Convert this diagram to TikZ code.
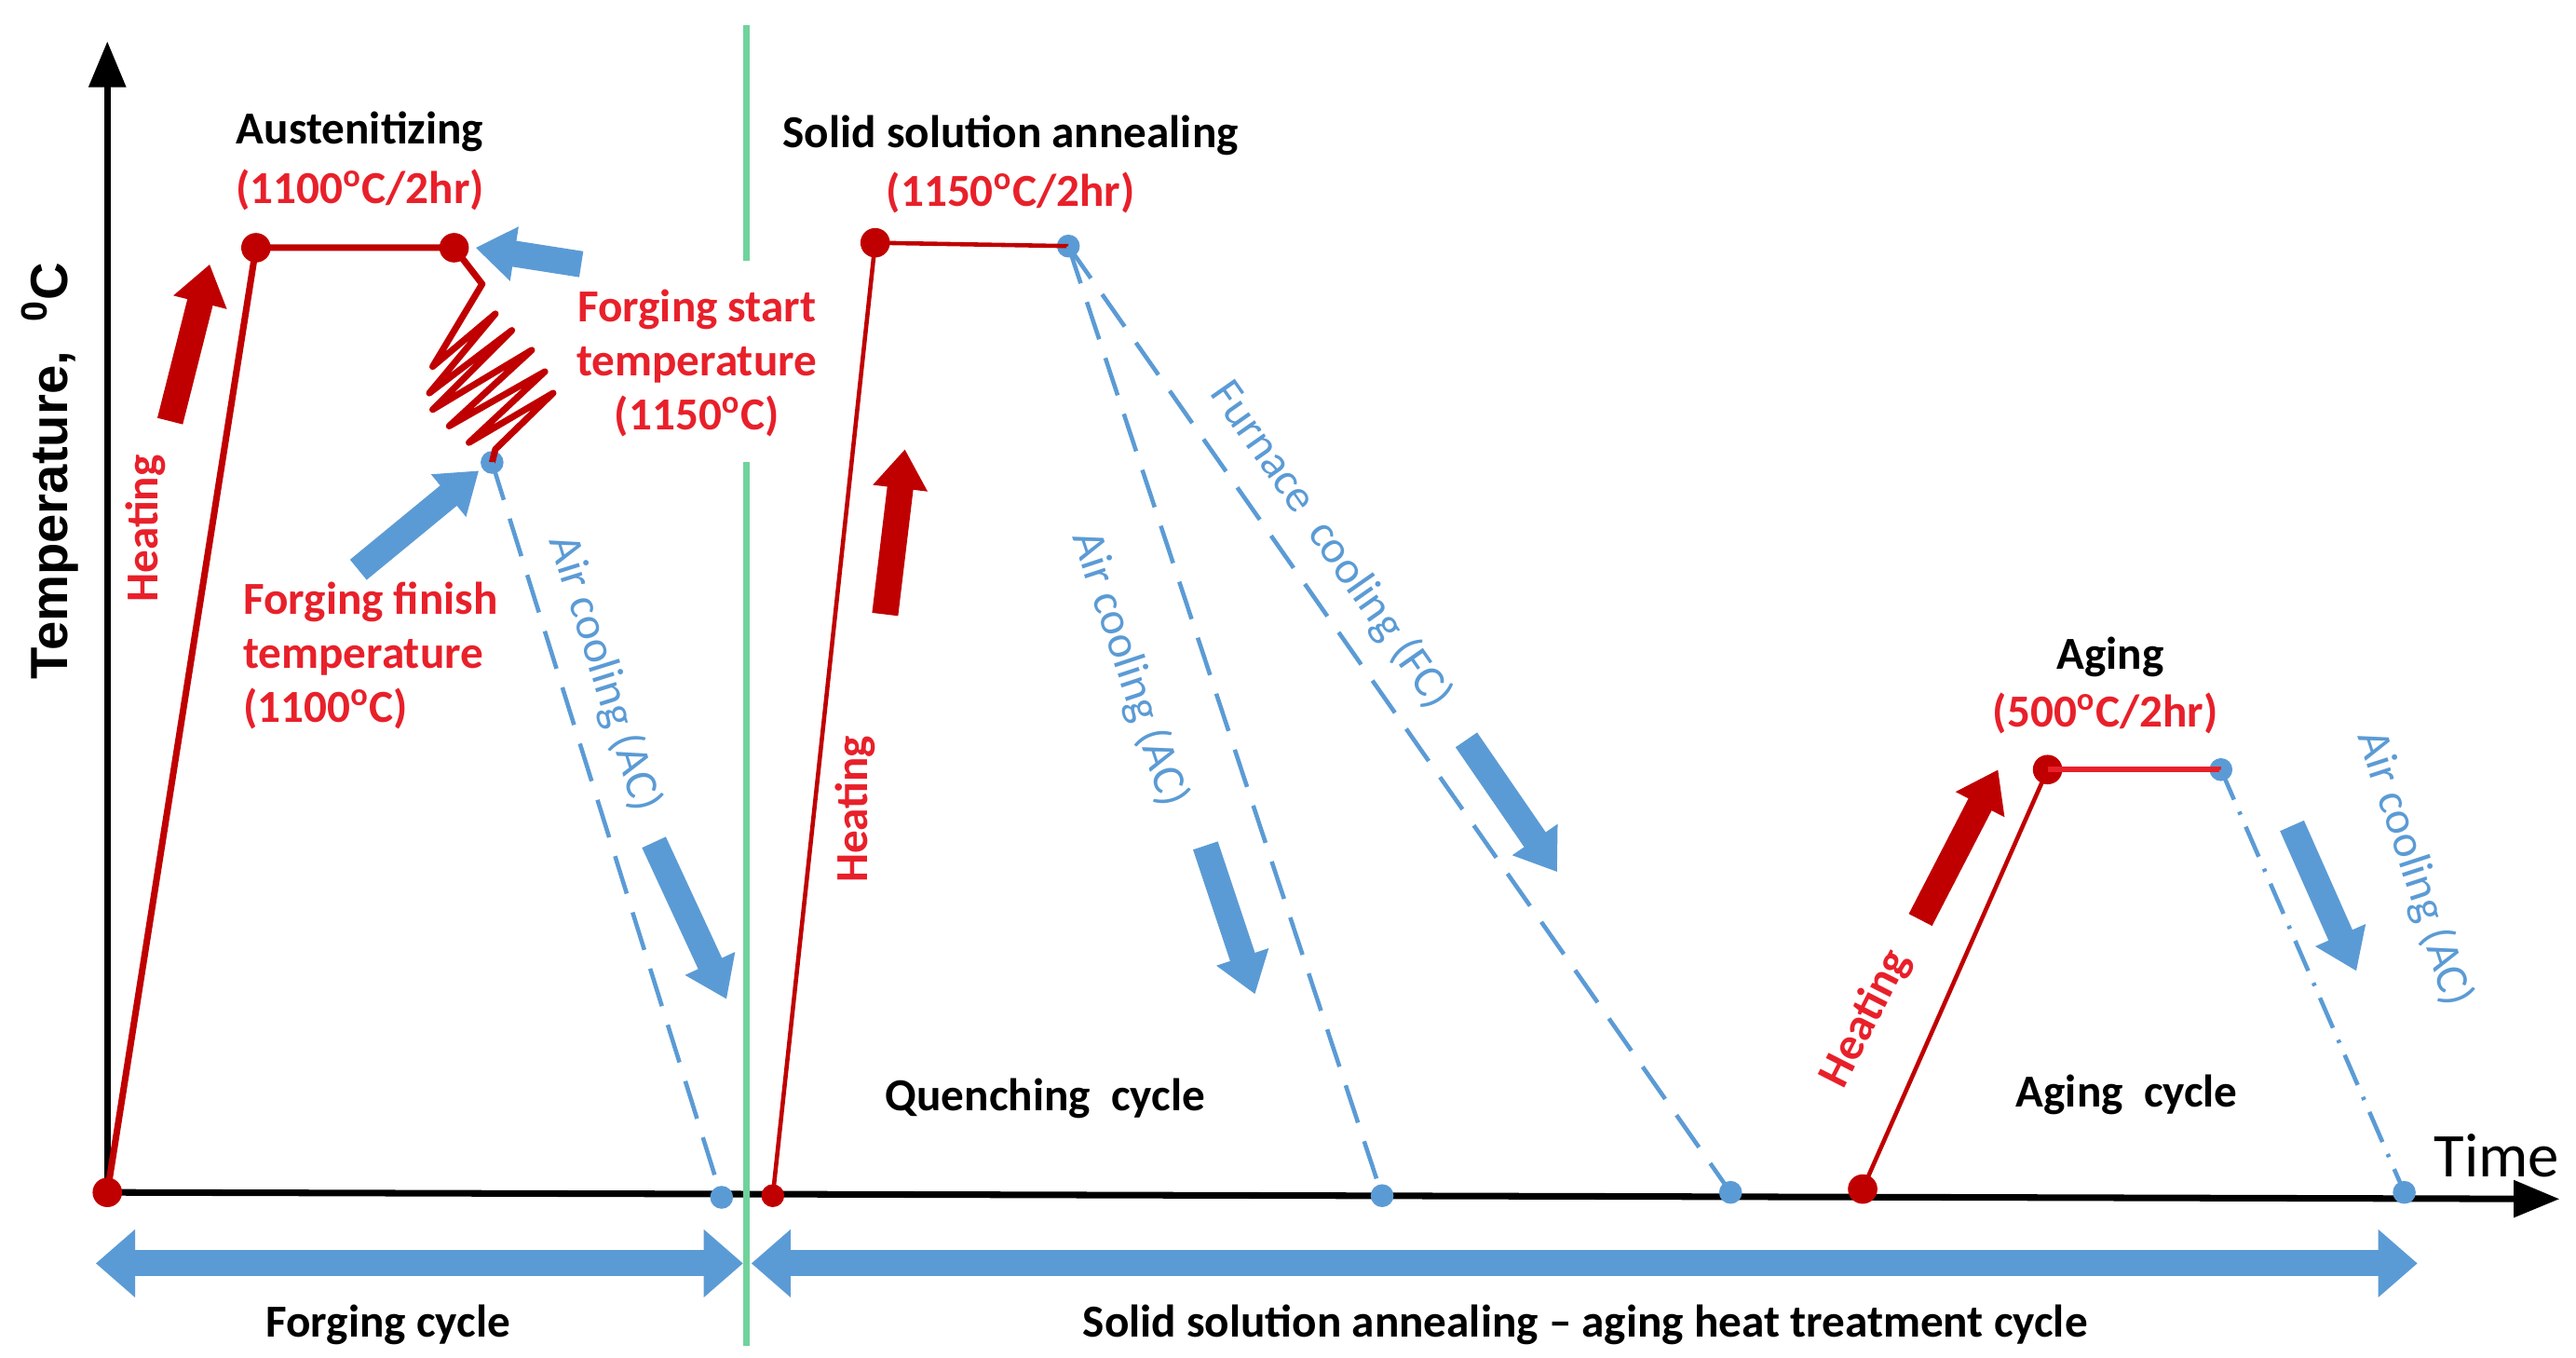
\documentclass[tikz,border=0pt]{standalone}
\usepackage{fontspec}
\setmainfont{Carlito}
\newfontfamily\arialf{Liberation Sans}
\usetikzlibrary{arrows.meta}
\definecolor{dred}{HTML}{C00000}
\definecolor{lred}{HTML}{E8202A}
\definecolor{lblue}{HTML}{5B9BD5}
\definecolor{lgreen}{HTML}{6FD39C}
\begin{document}
\begin{tikzpicture}[x=0.01773cm,y=-0.01773cm,
  lab/.style={font=\bfseries\fontsize{14}{16.5}\selectfont,align=center,inner sep=1pt},
  rlab/.style={lab,text=lred},
  blab/.style={font=\fontsize{14}{16}\selectfont,text=lblue,inner sep=1pt},
  rline/.style={dred,line width=1.3pt},
  bdash/.style={lblue,line width=1.3pt,dash pattern=on 12pt off 6pt},
  bdot/.style={lblue,line width=1.3pt,dash pattern=on 10pt off 4pt on 1pt off 4pt},
  rdot/.style={circle,fill=dred,inner sep=0pt,minimum size=9pt},
  bdotn/.style={circle,fill=lblue,inner sep=0pt,minimum size=7pt},
  rarr/.style={dred,line width=8pt,-{Triangle[width=16pt,length=12pt]}},
  barr/.style={lblue,line width=8pt,-{Triangle[width=16pt,length=12pt]}},
  bbar/.style={lblue,line width=8pt,{Triangle[width=20pt,length=12pt]}-{Triangle[width=20pt,length=12pt]}}]
\useasboundingbox (0,0) rectangle (1560,822);
% axes
\coordinate (O) at (65,722);
\coordinate (Ytop) at (65,25);
\coordinate (Xend) at (1550,726);
\draw[line width=2pt,-{Triangle[width=11pt,length=14pt]}] (O) -- (Ytop);
\draw[line width=2pt,-{Triangle[width=11pt,length=14pt]}] (O) -- (Xend);
% green separator
\coordinate (g1) at (452,15); \coordinate (g2) at (452,158);
\coordinate (g3) at (452,280); \coordinate (g4) at (452,815);
\draw[lgreen,line width=2pt] (g1) -- (g2) (g3) -- (g4);
% forging cycle
\node[rdot] (f0) at (65,722) {};
\node[rdot] (f1) at (155,150) {};
\node[rdot] (f2) at (275,150) {};
\node[bdotn] (f3) at (298,280) {};
\node[bdotn] (f4) at (437,725) {};
\draw[rline,line width=2pt,line join=round] (f0.center) -- (f1.center) -- (f2.center) -- (292,172)
  -- (262,222) -- (300,190) -- (260,238) -- (310,200) -- (262,248) -- (322,212)
  -- (272,258) -- (330,225) -- (284,268) -- (335,238) -- (300,272) -- (f3.center);
\draw[bdash] (f3.center) -- (f4.center);
\coordinate (ha1) at (103,255); \coordinate (ha2) at (127,160);
\draw[rarr] (ha1) -- (ha2);
\node[rlab,rotate=90] (heat1) at (88,320) {Heating};
\node[lab] (aus) at (218,80) {Austenitizing};
\node[rlab] (aust) at (218,115) {(1100\textsuperscript{o}C/2hr)};
\coordinate (b1a) at (352,160); \coordinate (b1b) at (288,150);
\draw[barr] (b1a) -- (b1b);
\node[rlab] (fst) at (422,220) {Forging start\\temperature\\(1150\textsuperscript{o}C)};
\coordinate (b2a) at (217,345); \coordinate (b2b) at (290,285);
\draw[barr] (b2a) -- (b2b);
\node[rlab,align=left,anchor=west] (ffi) at (145,397) {Forging finish\\temperature\\(1100\textsuperscript{o}C)};
\node[blab,rotate=-72.6] (ac1) at (366,408) {Air cooling (AC)};
\coordinate (b3a) at (396,510); \coordinate (b3b) at (440,605);
\draw[barr] (b3a) -- (b3b);
% solid solution
\node[rdot,minimum size=7pt] (s0) at (468,724) {};
\node[rdot] (s1) at (530,147) {};
\node[bdotn] (s2) at (647,149) {};
\node[bdotn] (s3) at (837,724) {};
\node[bdotn] (s4) at (1048,722) {};
\draw[rline] (s0.center) -- (s1.center) -- (s2.center);
\draw[bdash] (s2.center) -- (s3.center);
\draw[bdash] (s2.center) -- (s4.center);
\node[lab] (ssa) at (612,82) {Solid solution annealing};
\node[rlab] (ssat) at (612,117) {(1150\textsuperscript{o}C/2hr)};
\coordinate (ha3) at (536,372); \coordinate (ha4) at (548,272);
\draw[rarr] (ha3) -- (ha4);
\node[rlab,rotate=90] (heat2) at (518,490) {Heating};
\node[blab,rotate=-71.7] (ac2) at (684,405) {Air cooling (AC)};
\coordinate (b4a) at (730,512); \coordinate (b4b) at (760,602);
\draw[barr] (b4a) -- (b4b);
\node[blab,rotate=-55] (fc) at (806,330) {Furnace\ \ cooling (FC)};
\coordinate (b5a) at (888,448); \coordinate (b5b) at (943,528);
\draw[barr] (b5a) -- (b5b);
\node[lab] (qc) at (633,665) {Quenching\ \ cycle};
% aging
\node[rdot] (a0) at (1128,720) {};
\node[rdot] (a1) at (1240,466) {};
\node[bdotn] (a2) at (1345,466) {};
\node[bdotn] (a3) at (1456,722) {};
\draw[rline] (a0.center) -- (a1.center);
\draw[lred,line width=1.6pt] (a1.center) -- (a2.center);
\draw[bdot] (a2.center) -- (a3.center);
\node[lab] (ag) at (1278,398) {Aging};
\node[rlab] (agt) at (1275,432) {(500\textsuperscript{o}C/2hr)};
\coordinate (ha5) at (1163,557); \coordinate (ha6) at (1210,466);
\draw[rarr] (ha5) -- (ha6);
\node[rlab,rotate=63] (heat3) at (1130,617) {Heating};
\coordinate (b6a) at (1388,500); \coordinate (b6b) at (1427,588);
\draw[barr] (b6a) -- (b6b);
\node[blab,rotate=-72] (ac3) at (1462,526) {Air cooling (AC)};
\node[lab] (agc) at (1288,663) {Aging\ \ cycle};
\node[font=\fontsize{19}{22}\selectfont,inner sep=1pt] (time) at (1512,700) {Time};
% bottom bars
\coordinate (c1) at (58,765); \coordinate (c2) at (450,765);
\coordinate (c3) at (455,765); \coordinate (c4) at (1464,765);
\draw[bbar] (c1) -- (c2);
\draw[bbar] (c3) -- (c4);
\node[lab] (fcy) at (235,802) {Forging cycle};
\node[lab] (sscy) at (960,802) {Solid solution annealing -- aging heat treatment cycle};
\node[font=\arialf\bfseries\fontsize{16}{18}\selectfont,rotate=90] (ylab) at (30,285) {Temperature,\ \ \textsuperscript{0}C};
\end{tikzpicture}
\end{document}
